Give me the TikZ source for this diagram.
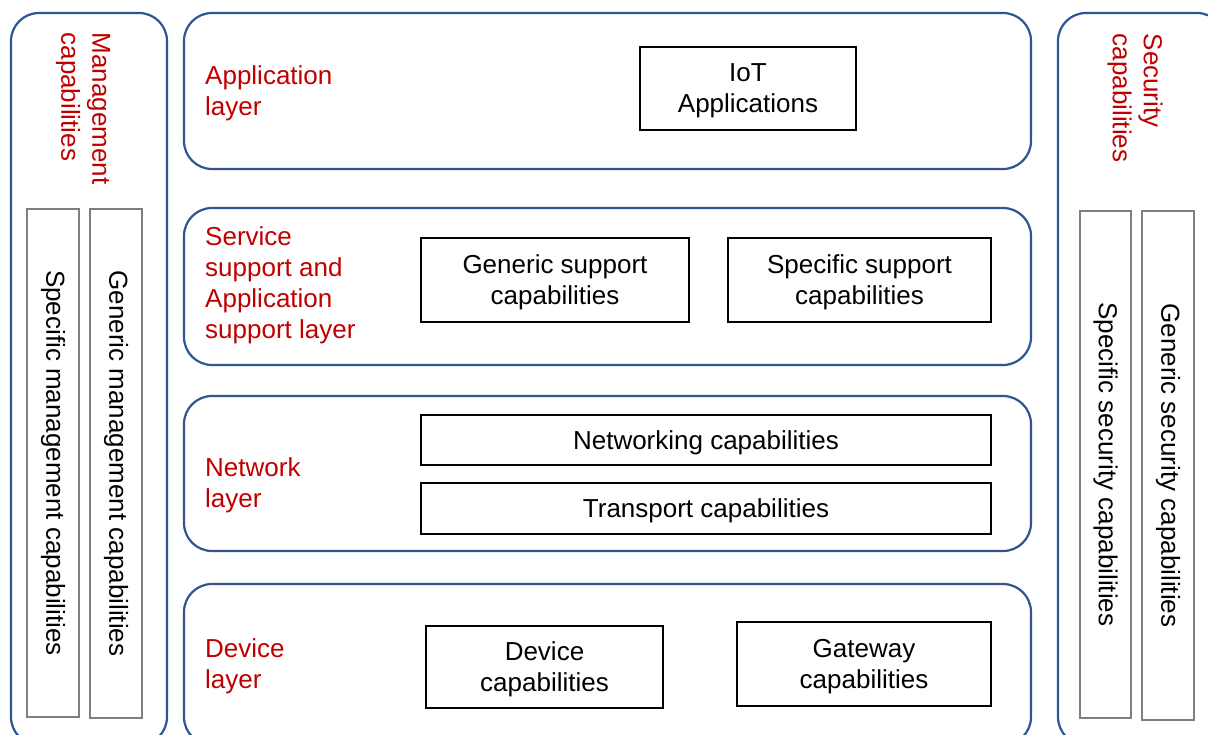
\documentclass[tikz,border=0pt]{standalone}
\usepackage{fontspec}
\setmainfont{Liberation Sans}
\definecolor{frameblue}{HTML}{2F5597}
\definecolor{labelred}{HTML}{C00000}
\definecolor{boxgray}{HTML}{7F7F7F}
\tikzset{
  layerbox/.style={draw=frameblue, line width=2.2pt, rounded corners=28pt, inner sep=0pt},
  capbox/.style={draw=black, line width=1.8pt, inner sep=0pt},
  captext/.style={inner sep=0pt, align=center, font=\fontsize{26}{31}\selectfont},
  graybox/.style={draw=boxgray, line width=1.8pt, inner sep=0pt, rotate=-90, font=\fontsize{26}{31}\selectfont},
  redlabel/.style={text=labelred, inner sep=0pt, align=left, font=\fontsize{26}{31}\selectfont},
}
\begin{document}
\begin{tikzpicture}[x=1pt, y=-1pt]
\useasboundingbox (0,0) rectangle (1208,735);
\clip (0,0) rectangle (1208,735);
\fill[white] (0,0) rectangle (1208,735);

% outer side frames
\node[layerbox, minimum width=156pt, minimum height=732pt] (mgmt) at (89,379) {};
\node[layerbox, minimum width=167pt, minimum height=732pt] (sec) at (1141.5,379) {};

% layer frames
\node[layerbox, minimum width=847pt, minimum height=156pt] (applayer) at (607.5,91) {};
\node[layerbox, minimum width=847pt, minimum height=157pt] (svclayer) at (607.5,286.5) {};
\node[layerbox, minimum width=847pt, minimum height=155pt] (netlayer) at (607.5,473.5) {};
\node[layerbox, minimum width=847pt, minimum height=161pt] (devlayer) at (607.5,664.5) {};

% layer labels
\node[redlabel, anchor=west] (applbl) at (205,93) {Application\\layer};
\node[redlabel, anchor=west] (svclbl) at (205,285) {Service\\support and\\Application\\support layer};
\node[redlabel, anchor=west] (netlbl) at (205,485.5) {Network\\layer};
\node[redlabel, anchor=west] (devlbl) at (205,666.5) {Device\\layer};

% side labels
\node[redlabel, rotate=-90] (mgmtlbl) at (83,108.5) {Management\\capabilities};
\node[redlabel, rotate=-90] (seclbl) at (1135,98) {Security\\capabilities};

% capability boxes
\node[capbox, minimum width=216pt, minimum height=83pt] (iot) at (748,88.5) {};
\node[capbox, minimum width=268pt, minimum height=84pt] (gen) at (555,280) {};
\node[capbox, minimum width=263pt, minimum height=84pt] (spec) at (859.5,280) {};
\node[capbox, minimum width=570pt, minimum height=50pt] (net) at (706,440) {};
\node[capbox, minimum width=570pt, minimum height=51pt] (trans) at (706,508.5) {};
\node[capbox, minimum width=237pt, minimum height=82pt] (dev) at (544.5,667) {};
\node[capbox, minimum width=254pt, minimum height=84pt] (gw) at (864,664) {};

\node[captext] (iott) at ([yshift=-2.5pt]iot.center) {IoT\\Applications};
\node[captext] (gent) at ([yshift=-2.5pt]gen.center) {Generic support\\capabilities};
\node[captext] (spect) at ([yshift=-2.5pt]spec.center) {Specific support\\capabilities};
\node[captext] (nett) at ([yshift=-2.5pt]net.center) {Networking capabilities};
\node[captext] (transt) at ([yshift=-2.5pt]trans.center) {Transport capabilities};
\node[captext] (devt) at ([yshift=-2.5pt]dev.center) {Device\\capabilities};
\node[captext] (gwt) at ([yshift=-2.5pt]gw.center) {Gateway\\capabilities};

% gray vertical boxes
\node[graybox, minimum width=508pt, minimum height=52pt] (specmgmt) at (53,463) {Specific management capabilities};
\node[graybox, minimum width=509pt, minimum height=52pt] (genmgmt) at (116,463.5) {Generic management capabilities};
\node[graybox, minimum width=507pt, minimum height=51pt] (specsec) at (1105.5,464.5) {Specific security capabilities};
\node[graybox, minimum width=509pt, minimum height=52pt] (gensec) at (1168,465.5) {Generic security capabilities};
\end{tikzpicture}
\end{document}
